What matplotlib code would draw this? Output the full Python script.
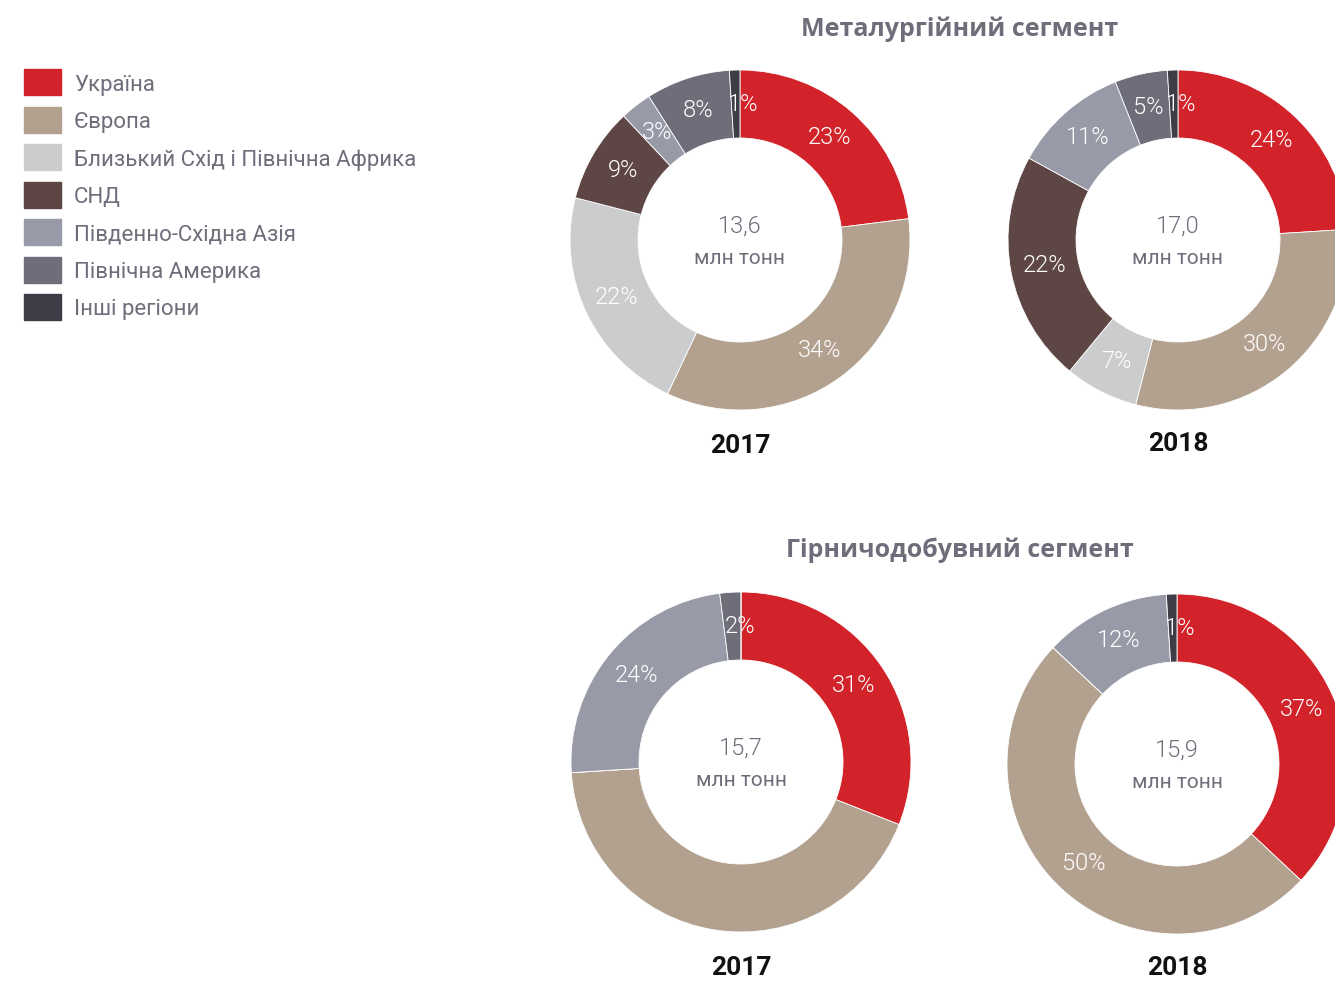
import matplotlib
matplotlib.use("Agg")
import matplotlib.pyplot as plt
import numpy as np

# regions, in drawing order (clockwise from 12 o'clock)
regions = ["Україна", "Європа", "Близький Схід і Північна Африка", "СНД",
           "Південно-Східна Азія", "Північна Америка", "Інші регіони"]
colors = ["#D2232A", "#B3A190", "#CBCCCE", "#5E4645", "#999AA8", "#6E6E7B", "#3D3D48"]

# shares, %
metal_2017 = [23, 34, 22, 9, 3, 8, 1]
metal_2018 = [24, 30, 7, 22, 11, 5, 1]
mining_2017 = [31, 43, 0, 0, 24, 2, 0]
mining_2018 = [37, 50, 0, 0, 12, 0, 1]
# the Europe share in mining 2017 carries no label in the source
mining_2017_show = [True, False, True, True, True, True, True]

totals = ["13,6", "17,0", "15,7", "15,9"]
years = ["2017", "2018", "2017", "2018"]
titles = ["Металургійний сегмент", "Гірничодобувний сегмент"]

W, H = 1335, 981
SANS = ["Roboto", "DejaVu Sans"]
GREY = "#6E6E7B"

fig = plt.figure(figsize=(W / 100, H / 100), dpi=100)
ax = fig.add_axes([0, 0, 1, 1])

def Y(y):  # pixel row from top -> data y
    return H - y

R_OUT, R_IN = 170, 102
donuts = [
    (metal_2017, None, (740, 240), 446),
    (metal_2018, None, (1178, 240), 444),
    (mining_2017, mining_2017_show, (741, 762), 968),
    (mining_2018, None, (1177, 764), 968),
]

for i, (vals, show, (cx, cy), yy) in enumerate(donuts):
    wedges, _ = ax.pie(vals, colors=colors, center=(cx, Y(cy)), radius=R_OUT,
                       startangle=90, counterclock=False, frame=True,
                       wedgeprops=dict(width=R_OUT - R_IN, edgecolor="white", linewidth=0.6))
    r_lab = (R_OUT + R_IN) / 2
    for k, (w, v) in enumerate(zip(wedges, vals)):
        if v == 0 or (show is not None and not show[k]):
            continue
        ang = np.deg2rad((w.theta1 + w.theta2) / 2)
        x = cx + r_lab * np.cos(ang)
        ha = "center"
        if v <= 2:  # thin slices: label sits to the right of the sliver
            x, ha = x - 8, "left"
        ax.text(x, Y(cy) + r_lab * np.sin(ang), f"{v}%",
                ha=ha, va="center", color="white", fontsize=17,
                fontweight=300, family=SANS)
    ax.text(cx, Y(cy - 14), totals[i], ha="center", va="center", color=GREY,
            fontsize=17, fontweight=300, family=SANS)
    ax.text(cx, Y(cy + 18), "млн тонн", ha="center", va="center", color=GREY,
            fontsize=15, family=SANS)
    ax.text(cx, Y(yy), years[i], ha="center", va="center", color="#111111",
            fontsize=19, fontweight="bold", family=SANS)

for t, yt in zip(titles, [29, 550]):
    ax.text(960, Y(yt), t, ha="center", va="center", color=GREY,
            fontsize=18, fontweight="bold", family=["Open Sans", "DejaVu Sans"])

# legend
for k, (name, c) in enumerate(zip(regions, colors)):
    y = 82 + k * 37.5
    ax.add_patch(plt.Rectangle((24, Y(y + 13)), 37, 26, color=c))
    ax.text(74, Y(y + 3), name, ha="left", va="center", color=GREY,
            fontsize=16, family=SANS)

ax.set_xlim(0, W)
ax.set_ylim(0, H)
ax.set_aspect("equal")
ax.axis("off")
fig.savefig("out.png", dpi=100)
